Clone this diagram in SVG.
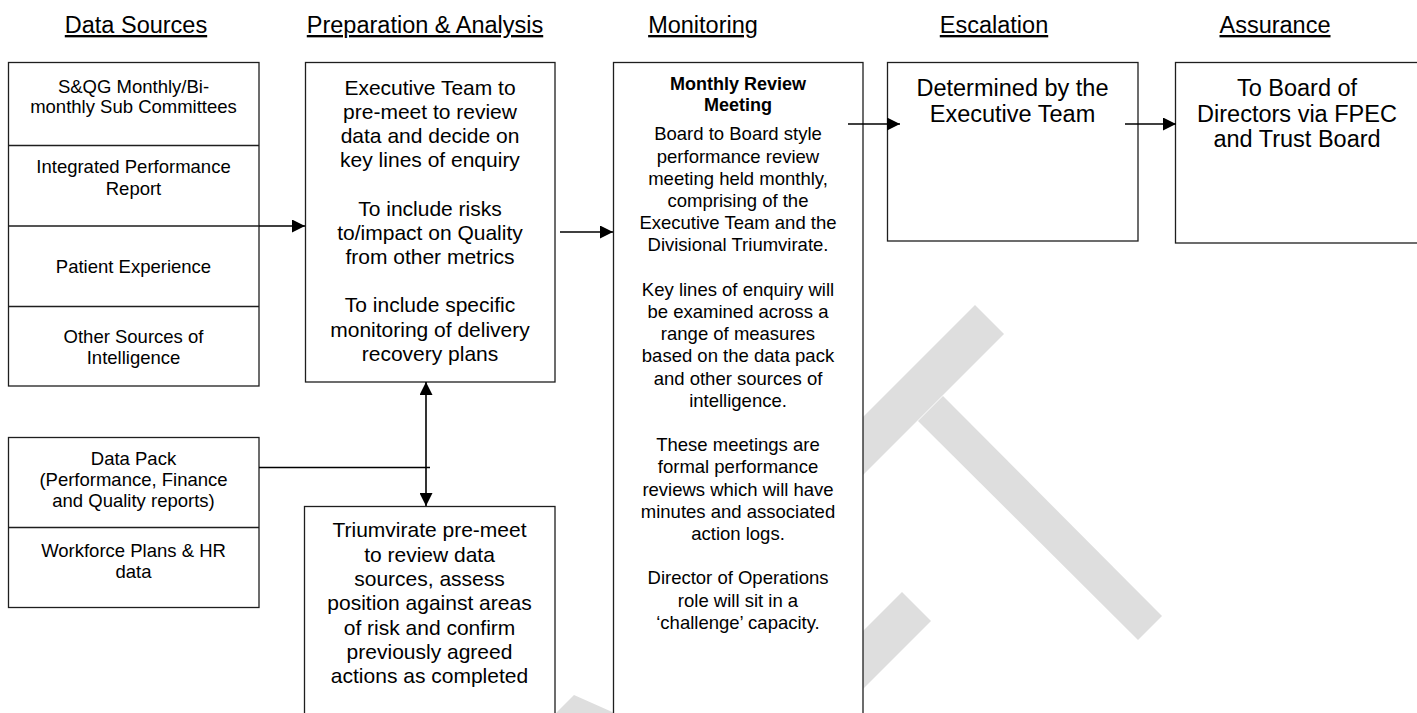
<svg xmlns="http://www.w3.org/2000/svg" width="1417" height="713" viewBox="0 0 1417 713">
  <style>
    .box { fill: #ffffff; stroke: #1e1e1e; stroke-width: 1.3; }
    .div { stroke: #1e1e1e; stroke-width: 1.3; fill: none; }
    .wm { fill: #dedede; }
    text { font-family: "Liberation Sans", Arial, sans-serif; fill: #000; text-anchor: middle; }
    .hdr { font-size: 23.5px; text-decoration: underline; }
    .src { font-size: 18.5px; }
    .prep { font-size: 21px; }
    .mon { font-size: 18.5px; }
    .mon-b { font-size: 18px; font-weight: bold; }
    .big { font-size: 23.5px; }
    .conn { stroke: #000; stroke-width: 1.6; fill: none; }
  </style>
  <defs>
    <marker id="arrow" viewBox="0 0 10 10" refX="10" refY="5" markerUnits="userSpaceOnUse" markerWidth="15" markerHeight="13" orient="auto-start-reverse">
      <path d="M0,0 L10,5 L0,10 z" fill="#000"/>
    </marker>
  </defs>

  <rect x="0" y="0" width="1417" height="713" fill="#ffffff"/>

  <!-- DRAFT watermark fragments -->
  <g id="watermark">
    <polygon class="wm" points="975,305 1004,334 854,484 825,455"/>
    <polygon class="wm" points="943,396 1162,616 1138,640 918,421"/>
    <polygon class="wm" points="902,592 931,621 731,821 702,792"/>
    <polygon class="wm" points="574,695 664,735 529,740"/>
  </g>

  <!-- column headings -->
  <g id="headings">
    <text class="hdr" x="136" y="33">Data Sources</text>
    <text class="hdr" x="425" y="33">Preparation &amp; Analysis</text>
    <text class="hdr" x="703" y="33">Monitoring</text>
    <text class="hdr" x="994" y="33">Escalation</text>
    <text class="hdr" x="1275" y="33">Assurance</text>
  </g>

  <g id="data-sources">
    <rect class="box" x="8.5" y="62.5" width="250.5" height="323.5"/>
    <path class="div" d="M8.5,145.5 H259 M8.5,226 H259 M8.5,306.5 H259"/>
    <text class="src" x="133.5" y="93">S&amp;QG Monthly/Bi-</text>
    <text class="src" x="133.5" y="113">monthly Sub Committees</text>
    <text class="src" x="133.5" y="173">Integrated Performance</text>
    <text class="src" x="133.5" y="194.5">Report</text>
    <text class="src" x="133.5" y="272.5">Patient Experience</text>
    <text class="src" x="133.5" y="343">Other Sources of</text>
    <text class="src" x="133.5" y="364">Intelligence</text>
  </g>

  <g id="data-pack">
    <rect class="box" x="8.5" y="437.5" width="250.5" height="170"/>
    <path class="div" d="M8.5,527.5 H259"/>
    <text class="src" x="133.5" y="464.5">Data Pack</text>
    <text class="src" x="133.5" y="485.5">(Performance, Finance</text>
    <text class="src" x="133.5" y="506.5">and Quality reports)</text>
    <text class="src" x="133.5" y="556.5">Workforce Plans &amp; HR</text>
    <text class="src" x="133.5" y="578">data</text>
  </g>

  <g id="executive-pre-meet">
    <rect class="box" x="305.5" y="62.5" width="249.5" height="319.5"/>
    <text class="prep" x="430" y="94.5">Executive Team to</text>
    <text class="prep" x="430" y="118.7">pre-meet to review</text>
    <text class="prep" x="430" y="142.9">data and decide on</text>
    <text class="prep" x="430" y="167.1">key lines of enquiry</text>
    <text class="prep" x="430" y="215.5">To include risks</text>
    <text class="prep" x="430" y="239.7">to/impact on Quality</text>
    <text class="prep" x="430" y="263.9">from other metrics</text>
    <text class="prep" x="430" y="312.3">To include specific</text>
    <text class="prep" x="430" y="336.5">monitoring of delivery</text>
    <text class="prep" x="430" y="360.7">recovery plans</text>
  </g>

  <g id="triumvirate-pre-meet">
    <rect class="box" x="304.5" y="506.5" width="250.5" height="260"/>
    <text class="prep" x="429.5" y="537.3">Triumvirate pre-meet</text>
    <text class="prep" x="429.5" y="561.6">to review data</text>
    <text class="prep" x="429.5" y="585.9">sources, assess</text>
    <text class="prep" x="429.5" y="610.2">position against areas</text>
    <text class="prep" x="429.5" y="634.5">of risk and confirm</text>
    <text class="prep" x="429.5" y="658.8">previously agreed</text>
    <text class="prep" x="429.5" y="683.1">actions as completed</text>
  </g>

  <g id="monthly-review">
    <rect class="box" x="613.5" y="62.5" width="249.5" height="700"/>
    <text class="mon-b" x="738" y="90">Monthly Review</text>
    <text class="mon-b" x="738" y="111">Meeting</text>
    <text class="mon" x="738" y="140.3">Board to Board style</text>
    <text class="mon" x="738" y="162.5">performance review</text>
    <text class="mon" x="738" y="184.7">meeting held monthly,</text>
    <text class="mon" x="738" y="206.9">comprising of the</text>
    <text class="mon" x="738" y="229.1">Executive Team and the</text>
    <text class="mon" x="738" y="251.3">Divisional Triumvirate.</text>
    <text class="mon" x="738" y="295.7">Key lines of enquiry will</text>
    <text class="mon" x="738" y="317.9">be examined across a</text>
    <text class="mon" x="738" y="340.1">range of measures</text>
    <text class="mon" x="738" y="362.3">based on the data pack</text>
    <text class="mon" x="738" y="384.5">and other sources of</text>
    <text class="mon" x="738" y="406.7">intelligence.</text>
    <text class="mon" x="738" y="451.1">These meetings are</text>
    <text class="mon" x="738" y="473.3">formal performance</text>
    <text class="mon" x="738" y="495.5">reviews which will have</text>
    <text class="mon" x="738" y="517.7">minutes and associated</text>
    <text class="mon" x="738" y="539.9">action logs.</text>
    <text class="mon" x="738" y="584.3">Director of Operations</text>
    <text class="mon" x="738" y="606.5">role will sit in a</text>
    <text class="mon" x="738" y="628.7">‘challenge’ capacity.</text>
  </g>

  <g id="escalation">
    <rect class="box" x="887.5" y="62.5" width="250.5" height="178.5"/>
    <text class="big" x="1012.5" y="96">Determined by the</text>
    <text class="big" x="1012.5" y="121.5">Executive Team</text>
  </g>

  <g id="assurance">
    <rect class="box" x="1175.5" y="62.5" width="245" height="180.5"/>
    <text class="big" x="1297" y="96">To Board of</text>
    <text class="big" x="1297" y="121.5">Directors via FPEC</text>
    <text class="big" x="1297" y="147">and Trust Board</text>
  </g>

  <g id="connectors">
    <path class="conn" d="M259,226 H305" marker-end="url(#arrow)"/>
    <path class="conn" d="M560,232 H613" marker-end="url(#arrow)"/>
    <path class="conn" d="M848,124 H900" marker-end="url(#arrow)"/>
    <path class="conn" d="M1125,124 H1176" marker-end="url(#arrow)"/>
    <path class="conn" d="M259,467.5 H430"/>
    <path class="conn" d="M426,382 V506" marker-start="url(#arrow)" marker-end="url(#arrow)"/>
  </g>
</svg>
